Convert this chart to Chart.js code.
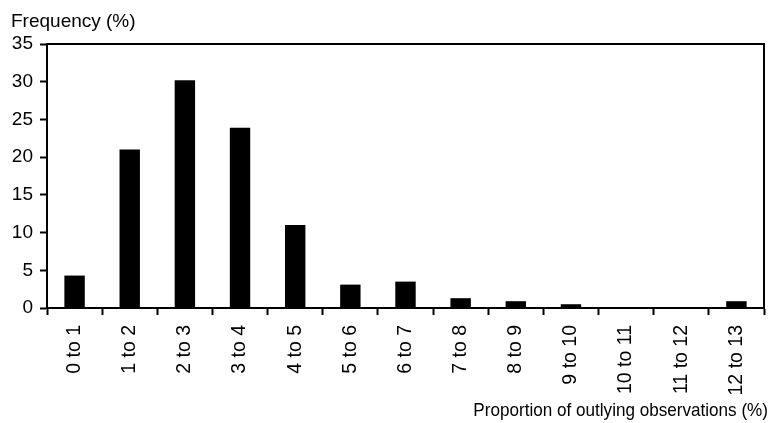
<!DOCTYPE html>
<html>
<head>
<meta charset="utf-8">
<script src="https://cdn.jsdelivr.net/npm/chart.js@4/dist/chart.umd.min.js"></script>
<style>
  html, body { margin: 0; padding: 0; background: #fff; }
  #wrap { width: 774px; height: 423px; }
</style>
</head>
<body>
<div id="wrap"><canvas id="histChart" width="774" height="423"></canvas></div>
<script>
// categories and values
const categories = ['0 to 1', '1 to 2', '2 to 3', '3 to 4', '4 to 5', '5 to 6', '6 to 7',
    '7 to 8', '8 to 9', '9 to 10', '10 to 11', '11 to 12', '12 to 13'];
const frequency = [4.3, 21, 30.2, 23.9, 11, 3.1, 3.5, 1.3, 0.9, 0.5, 0, 0, 0.9];
const yTicks = [0, 5, 10, 15, 20, 25, 30, 35];
const yTitle = 'Frequency (%)';
const xTitle = 'Proportion of outlying observations (%)';

const FONT = 'Liberation Sans, Arial, sans-serif';

// axis titles + top/right frame
const frameAndTitles = {
    id: 'frameAndTitles',
    afterDraw(chart) {
        const { ctx, chartArea } = chart;
        ctx.save();
        ctx.strokeStyle = '#000';
        ctx.lineWidth = 2;
        ctx.beginPath();
        ctx.moveTo(chartArea.left, chartArea.top);
        ctx.lineTo(chartArea.right, chartArea.top);
        ctx.lineTo(chartArea.right, chartArea.bottom);
        ctx.stroke();

        ctx.fillStyle = '#000';
        ctx.textBaseline = 'alphabetic';
        ctx.font = '19px ' + FONT;
        ctx.textAlign = 'left';
        ctx.fillText(yTitle, 11, 27);

        // x title is a bit condensed in the original
        ctx.font = '19px ' + FONT;
        ctx.textAlign = 'right';
        ctx.translate(768, 416);
        ctx.scale(0.9, 1);
        ctx.fillText(xTitle, 0, 0);
        ctx.restore();
    }
};

const ctx = document.getElementById('histChart').getContext('2d');

new Chart(ctx, {
    type: 'bar',
    data: {
        labels: categories,
        datasets: [{
            label: yTitle,
            data: frequency,
            backgroundColor: '#000',
            borderWidth: 0,
            categoryPercentage: 1,
            barPercentage: 0.37
        }]
    },
    options: {
        responsive: false,
        animation: false,
        layout: { padding: { top: 44, right: 10, left: 0, bottom: 0 } },
        plugins: {
            legend: { display: false },
            tooltip: { enabled: false }
        },
        scales: {
            x: {
                afterFit(scale) { scale.height = 115; },
                grid: {
                    drawOnChartArea: false,
                    drawTicks: true,
                    tickLength: 7,
                    tickWidth: 2,
                    color: '#000'
                },
                border: { color: '#000', width: 2 },
                ticks: {
                    color: '#000',
                    autoSkip: false,
                    minRotation: 90,
                    maxRotation: 90,
                    padding: 10,
                    font: { family: FONT, size: 19.5 }
                }
            },
            y: {
                min: 0,
                max: 35,
                afterFit(scale) { scale.width = 47; },
                afterBuildTicks(scale) { scale.ticks = yTicks.map(v => ({ value: v })); },
                grid: {
                    drawOnChartArea: false,
                    drawTicks: true,
                    tickLength: 7,
                    tickWidth: 2,
                    color: '#000'
                },
                border: { color: '#000', width: 2 },
                ticks: {
                    color: '#000',
                    padding: 7,
                    font: { family: FONT, size: 19 }
                }
            }
        }
    },
    plugins: [frameAndTitles]
});
</script>
</body>
</html>
